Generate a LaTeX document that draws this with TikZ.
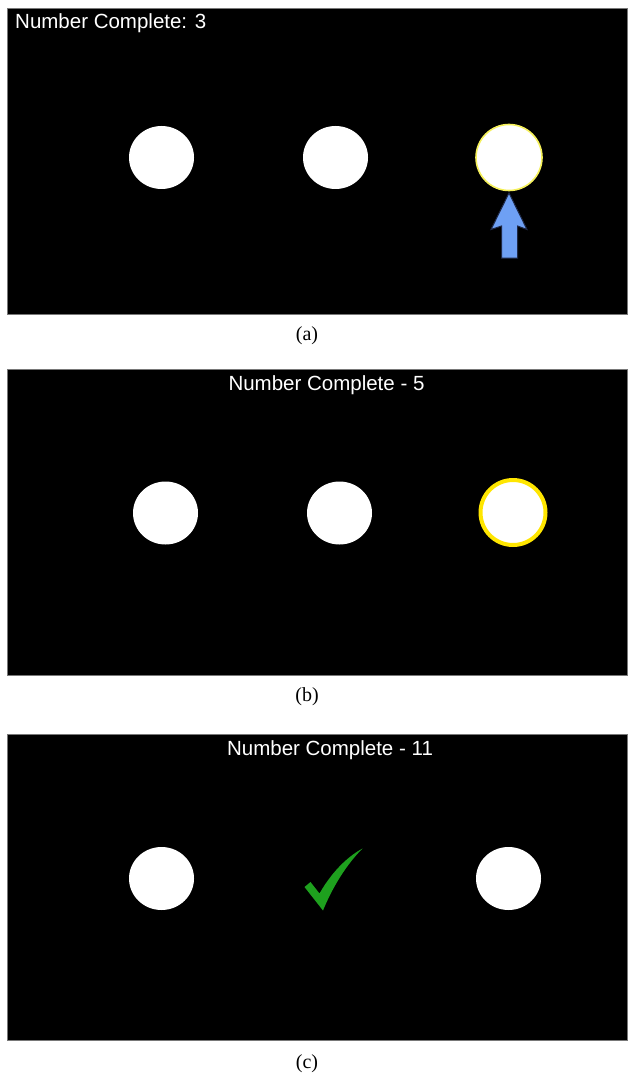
\documentclass[tikz,border=0pt]{standalone}
\usepackage{fontspec}
\setmainfont{Liberation Serif}
\newfontfamily\arialfont{Liberation Sans}
\usetikzlibrary{shapes.geometric}
\definecolor{panelborder}{RGB}{120,120,120}
\definecolor{ringyellow}{RGB}{255,230,0}
\definecolor{paleyellow}{RGB}{245,240,90}
\definecolor{arrowblue}{RGB}{110,160,244}
\definecolor{arrowedge}{RGB}{30,40,70}
\definecolor{checkgreen}{RGB}{30,160,30}
\tikzset{
  panel/.style={fill=black, draw=panelborder, line width=0.8pt},
  dot/.style={ellipse, fill=white, inner sep=0pt, minimum width=65pt, minimum height=63pt},
  thinring/.style={circle, fill=white, draw=paleyellow, line width=1.6pt, inner sep=0pt, minimum size=66pt},
  thickring/.style={circle, fill=white, draw=ringyellow, line width=4pt, inner sep=0pt, minimum size=65pt},
  title/.style={text=white, font=\arialfont\fontsize{20.5}{24}\selectfont, inner sep=0pt},
  caption/.style={font=\fontsize{20}{23}\selectfont, inner sep=0pt}
}
\begin{document}
\begin{tikzpicture}[x=1pt,y=-1pt]
\useasboundingbox (0,0) rectangle (627,1075);
\fill[white] (0,0) rectangle (627,1075);
% panels
\draw[panel] (7,8) rectangle (627,314);
\draw[panel] (7,369) rectangle (627,675);
\draw[panel] (7,734) rectangle (627,1040);
% panel (a)
\node[title, anchor=base west] (ta) at (15,29) {Number Complete: 3};
\node[dot] (a1) at (161.5,157.5) {};
\node[dot] (a2) at (335.5,157.5) {};
\node[thinring] (a3) at (509,157.5) {};
\draw[fill=arrowblue, draw=arrowedge, line width=1pt, line join=miter]
  (509,193) -- (527,229.5) -- (517.5,226) -- (517.5,258) -- (501.5,258) -- (501.5,226) -- (491,229.5) -- cycle;
\node[caption] (la) at (307,336) {(a)};
% panel (b)
\node[title, anchor=base] (tb) at (326.5,390) {Number Complete - 5};
\node[dot] (b1) at (165.5,513) {};
\node[dot] (b2) at (339.5,513) {};
\node[thickring] (b3) at (513,512.5) {};
\node[caption] (lb) at (307,697) {(b)};
% panel (c)
\node[title, anchor=base] (tc) at (330,755) {Number Complete - 11};
\node[dot] (c1) at (161.5,878.5) {};
\node[dot] (c3) at (508.5,878.5) {};
\fill[checkgreen]
  (304.5,887) -- (310.5,882) -- (319.5,893.5)
  .. controls (330,875) and (345,858) .. (362.5,848.5)
  .. controls (347,864) and (333,886) .. (323,910.5)
  -- cycle;
\node[caption] (lc) at (307,1064) {(c)};
\end{tikzpicture}
\end{document}
